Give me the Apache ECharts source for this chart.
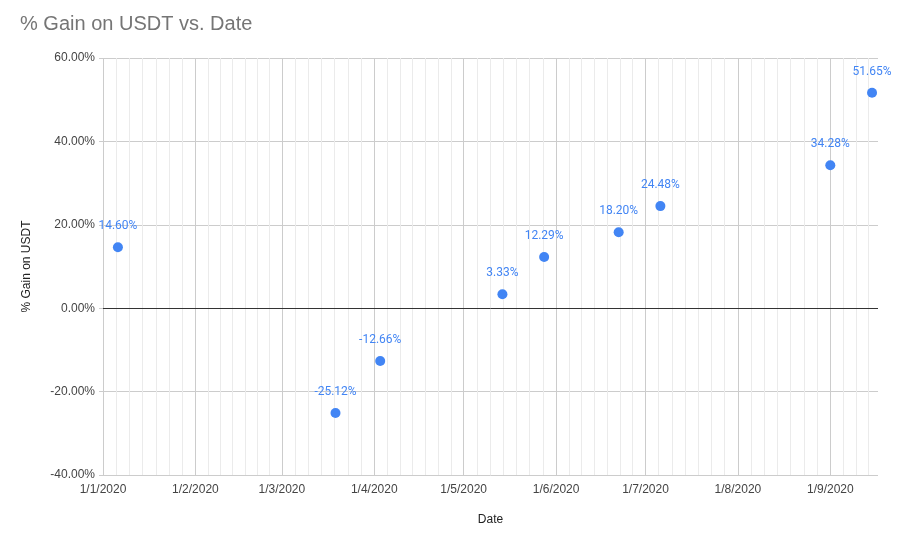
<!DOCTYPE html>
<html>
<head>
<meta charset="utf-8">
<script src="https://cdn.jsdelivr.net/npm/echarts@6/dist/echarts.min.js"></script>
<style>
  html, body { margin: 0; padding: 0; background: #fff; }
  #chart { width: 898px; height: 533px; }
</style>
</head>
<body>
<div id="chart"></div>
<script>
// 数据
var dates = ['2020-01-06', '2020-03-19', '2020-04-03', '2020-05-14', '2020-05-28',
             '2020-06-22', '2020-07-06', '2020-09-01', '2020-09-15'];
var gains = [14.60, -25.12, -12.66, 3.33, 12.29, 18.20, 24.48, 34.28, 51.65];
var yTicks = [-40, -20, 0, 20, 40, 60];
var xRange = ['2020-01-01', '2020-09-17'];

var points = dates.map(function (d, i) { return [d, gains[i]]; });
var DAY = 86400000;

// 次网格线：每个月分成7段
var xMax = echarts.time.parse(xRange[1]).getTime();
var minorLines = [];
for (var m = 0; m < 9; m++) {
    var a = new Date(2020, m, 1).getTime();
    var b = new Date(2020, m + 1, 1).getTime();
    for (var k = 1; k < 7; k++) {
        var t = a + (b - a) * k / 7;
        if (t < xMax) minorLines.push({ xAxis: t });
    }
}

var myChart = echarts.init(document.getElementById('chart'));
var option = {
    backgroundColor: '#fff',
    animation: false,
    title: {
        text: '% Gain on USDT vs. Date',
        left: 15,
        top: 9,
        textStyle: {
            fontFamily: 'Liberation Sans, Arial',
            fontSize: 20,
            fontWeight: 'normal',
            color: '#757575'
        }
    },
    grid: {
        left: 103,
        right: 20,
        top: 58,
        bottom: 58
    },
    xAxis: {
        type: 'time',
        min: xRange[0],
        max: xRange[1],
        minInterval: 28 * DAY,
        maxInterval: 31 * DAY,
        name: 'Date',
        nameLocation: 'middle',
        nameGap: 39,
        nameTextStyle: { fontFamily: 'Liberation Sans, Arial', fontSize: 12, color: '#222' },
        axisLine: { show: false },
        axisTick: { show: false },
        axisLabel: {
            showMaxLabel: false,
            fontFamily: 'Liberation Sans, Arial',
            fontSize: 12,
            color: '#444',
            margin: 9,
            formatter: function (val) {
                var d = new Date(val);
                return d.getDate() + '/' + (d.getMonth() + 1) + '/' + d.getFullYear();
            }
        },
        splitLine: { show: true, showMaxLine: false, lineStyle: { color: '#cccccc', width: 1 } }
    },
    yAxis: {
        type: 'value',
        min: yTicks[0],
        max: yTicks[yTicks.length - 1],
        interval: 20,
        name: '% Gain on USDT',
        nameLocation: 'middle',
        nameGap: 70,
        nameTextStyle: { fontFamily: 'Liberation Sans, Arial', fontSize: 12, color: '#222' },
        axisLine: { show: false },
        axisTick: { show: true, length: 4, lineStyle: { color: '#cccccc' } },
        axisLabel: {
            fontFamily: 'Liberation Sans, Arial',
            fontSize: 12,
            color: '#444',
            margin: 8,
            formatter: function (v) { return v.toFixed(2) + '%'; }
        },
        splitLine: { show: true, lineStyle: { color: '#cccccc', width: 1 } }
    },
    series: [
        {
            // 次网格线
            type: 'line',
            data: [],
            z: 0,
            silent: true,
            markLine: {
                z: 0,
                silent: true,
                symbol: 'none',
                label: { show: false },
                lineStyle: { color: '#ebebeb', type: 'solid', width: 1 },
                data: minorLines
            }
        },
        {
            type: 'scatter',
            data: points,
            z: 3,
            symbol: 'circle',
            symbolSize: 10,
            itemStyle: { color: '#4285f4', opacity: 1 },
            label: {
                show: true,
                position: 'top',
                distance: 10,
                fontFamily: 'Roboto',
                fontSize: 12,
                color: '#4285f4',
                formatter: function (p) { return p.value[1].toFixed(2) + '%'; }
            },
            markLine: {
                z: 1,
                silent: true,
                symbol: 'none',
                label: { show: false },
                lineStyle: { color: '#333', type: 'solid', width: 1 },
                data: [{ yAxis: 0 }]
            }
        }
    ]
};
myChart.setOption(option);
</script>
</body>
</html>
